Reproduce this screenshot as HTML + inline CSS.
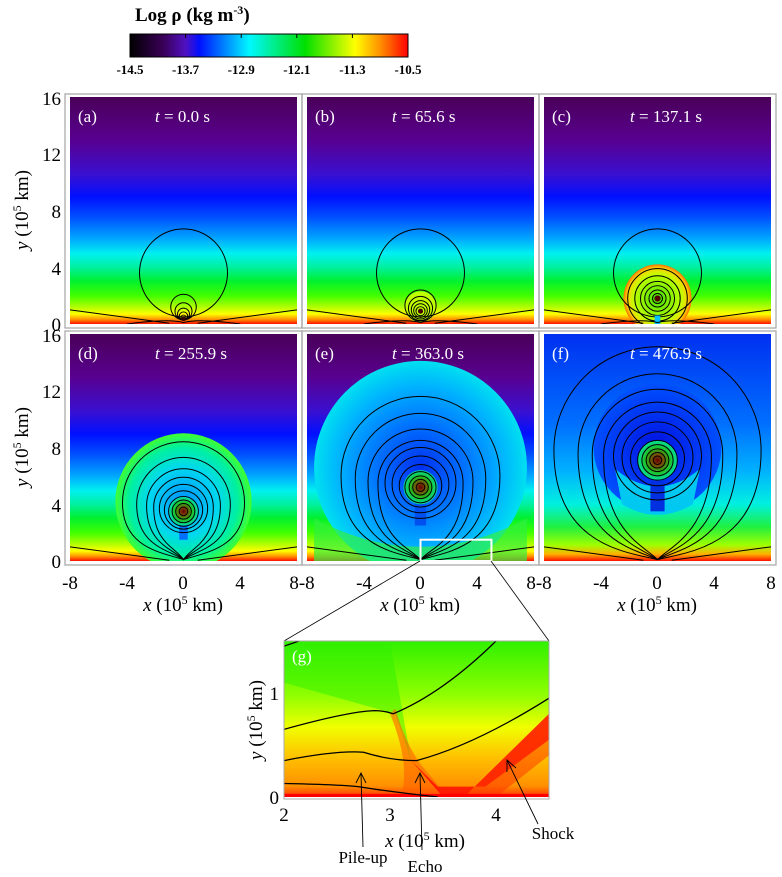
<!DOCTYPE html>
<html><head><meta charset="utf-8"><style>
html,body{margin:0;padding:0;background:#fff}
svg{display:block}
text{font-family:"Liberation Serif",serif}
</style></head><body>
<svg width="782" height="877" viewBox="0 0 782 877" xmlns="http://www.w3.org/2000/svg">
<defs>
<linearGradient id="cb" x1="0" x2="1" y1="0" y2="0">
<stop offset="0" stop-color="#000"/><stop offset="0.12" stop-color="#3a0058"/><stop offset="0.2" stop-color="#5010c0"/><stop offset="0.25" stop-color="#0010ff"/><stop offset="0.43" stop-color="#00f8ff"/><stop offset="0.63" stop-color="#00e000"/><stop offset="0.81" stop-color="#ffff00"/><stop offset="0.9" stop-color="#ff9000"/><stop offset="1" stop-color="#ff0000"/>
</linearGradient>
<linearGradient id="bg" gradientUnits="userSpaceOnUse" x1="0" y1="16" x2="0" y2="0">
<stop offset="0" stop-color="#4a0058"/><stop offset="0.19" stop-color="#580090"/><stop offset="0.34" stop-color="#3a10d0"/><stop offset="0.44" stop-color="#0010ff"/><stop offset="0.53" stop-color="#0050ff"/><stop offset="0.625" stop-color="#00a8ff"/><stop offset="0.69" stop-color="#00f0f0"/><stop offset="0.75" stop-color="#00f0a0"/><stop offset="0.81" stop-color="#00f030"/><stop offset="0.875" stop-color="#40ff00"/><stop offset="0.925" stop-color="#b0ff00"/><stop offset="0.956" stop-color="#ffff00"/><stop offset="0.98" stop-color="#ff9000"/><stop offset="1" stop-color="#ff1000"/>
</linearGradient>
<linearGradient id="bgf" gradientUnits="userSpaceOnUse" x1="0" y1="16" x2="0" y2="0">
<stop offset="0" stop-color="#0030f0"/><stop offset="0.4" stop-color="#0070ff"/><stop offset="0.6" stop-color="#00b0ff"/><stop offset="0.75" stop-color="#00f0e0"/><stop offset="0.85" stop-color="#20f040"/><stop offset="0.93" stop-color="#a0ff00"/><stop offset="0.97" stop-color="#ffb000"/><stop offset="1" stop-color="#ff1000"/>
</linearGradient>
<radialGradient id="core"><stop offset="0" stop-color="#600000"/><stop offset="0.25" stop-color="#804000"/><stop offset="0.6" stop-color="#20c020"/><stop offset="1" stop-color="#00e0a0"/></radialGradient>
<radialGradient id="bc"><stop offset="0" stop-color="#40e000"/><stop offset="0.7" stop-color="#c0ff00"/><stop offset="0.9" stop-color="#ffd000"/><stop offset="1" stop-color="#ff7000"/></radialGradient>
<radialGradient id="bd"><stop offset="0" stop-color="#0090ff"/><stop offset="0.5" stop-color="#00d8f0"/><stop offset="0.8" stop-color="#00f0a0"/><stop offset="1" stop-color="#40ff30"/></radialGradient>
<radialGradient id="be"><stop offset="0" stop-color="#0030f0"/><stop offset="0.4" stop-color="#0070ff"/><stop offset="0.75" stop-color="#00b0ff"/><stop offset="1" stop-color="#00e0f0"/></radialGradient>
<radialGradient id="bf"><stop offset="0" stop-color="#0010e0"/><stop offset="1" stop-color="#0050ff"/></radialGradient>
<linearGradient id="gg" gradientUnits="userSpaceOnUse" x1="0" y1="1.5" x2="0" y2="0">
<stop offset="0" stop-color="#30f000"/><stop offset="0.35" stop-color="#90ff00"/><stop offset="0.55" stop-color="#f0ff00"/><stop offset="0.75" stop-color="#ffc000"/><stop offset="0.93" stop-color="#ff9000"/><stop offset="1" stop-color="#ff3000"/>
</linearGradient>
<clipPath id="cp"><rect x="-8" y="0" width="16" height="16"/></clipPath>
<clipPath id="cg"><rect x="2" y="0" width="2.5" height="1.5"/></clipPath>
</defs>

<!-- colorbar -->
<text x="135" y="21" font-size="19" font-weight="bold">Log ρ (kg  m<tspan font-size="12" dy="-7">-3</tspan><tspan dy="7">)</tspan></text>
<rect x="130" y="34" width="278" height="23" fill="url(#cb)" stroke="#000" stroke-width="1"/>
<g stroke="#000" stroke-width="1"><line x1="185.6" y1="34" x2="185.6" y2="38"/><line x1="241.2" y1="34" x2="241.2" y2="38"/><line x1="296.8" y1="34" x2="296.8" y2="38"/><line x1="352.4" y1="34" x2="352.4" y2="38"/></g>
<g font-size="13" font-weight="bold" text-anchor="middle">
<text x="130" y="74">-14.5</text><text x="185.6" y="74">-13.7</text><text x="241.2" y="74">-12.9</text><text x="296.8" y="74">-12.1</text><text x="352.4" y="74">-11.3</text><text x="408" y="74">-10.5</text></g>

<!-- frames -->
<g fill="none" stroke="#aaa" stroke-width="1.3">
<rect x="65" y="94" width="237" height="234"/><rect x="302" y="94" width="237" height="234"/><rect x="539" y="94" width="237" height="234"/>
<rect x="65" y="331" width="237" height="234"/><rect x="302" y="331" width="237" height="234"/><rect x="539" y="331" width="237" height="234"/>
</g>

<!-- panel a -->
<g transform="translate(183.5,324) scale(14.19,-14.19)" clip-path="url(#cp)" fill="none" stroke="#000" stroke-width="0.07">
<rect x="-8" y="0" width="16" height="16" fill="url(#bg)" stroke="none"/>
<circle cx="0" cy="3.6" r="3.1"/><circle cx="0" cy="1.2" r="0.9"/><circle cx="0" cy="0.9" r="0.6"/><circle cx="0" cy="0.7" r="0.42"/><circle cx="0" cy="0.55" r="0.3"/><circle cx="0" cy="0.45" r="0.18"/>
<circle cx="0" cy="0.35" r="0.15" fill="#300" stroke="none"/>
<path d="M-8,1 L-1,0.05 M8,1 L1,0.05 M-4,0 Q-1,0.4 0,0.1 Q1,0.4 4,0"/>
</g>
<!-- panel b -->
<g transform="translate(420.5,324) scale(14.19,-14.19)" clip-path="url(#cp)" fill="none" stroke="#000" stroke-width="0.07">
<rect x="-8" y="0" width="16" height="16" fill="url(#bg)" stroke="none"/>
<circle cx="0" cy="1.2" r="1.1" fill="#c0ff00" stroke="none"/>
<circle cx="0" cy="3.6" r="3.1"/><circle cx="0" cy="1.3" r="1.1"/><circle cx="0" cy="1.1" r="0.85"/><circle cx="0" cy="1" r="0.65"/><circle cx="0" cy="0.95" r="0.48"/><circle cx="0" cy="0.9" r="0.32"/>
<circle cx="0" cy="0.9" r="0.18" fill="#400" stroke="none"/>
<path d="M-8,1 L-1,0.05 M8,1 L1,0.05 M-4,0 Q-1,0.4 0,0.1 Q1,0.4 4,0"/>
</g>
<!-- panel c -->
<g transform="translate(657.5,324) scale(14.19,-14.19)" clip-path="url(#cp)" fill="none" stroke="#000" stroke-width="0.07">
<rect x="-8" y="0" width="16" height="16" fill="url(#bg)" stroke="none"/>
<circle cx="0" cy="1.8" r="2.4" fill="url(#bc)" stroke="none"/>
<circle cx="0" cy="3.6" r="3.1"/><circle cx="0" cy="1.8" r="2.1"/><circle cx="0" cy="1.8" r="1.6"/><circle cx="0" cy="1.8" r="1.2"/><circle cx="0" cy="1.8" r="0.9"/><circle cx="0" cy="1.8" r="0.6"/><circle cx="0" cy="1.8" r="0.35"/>
<circle cx="0" cy="1.8" r="0.22" fill="#500" stroke="none"/>
<rect x="-0.2" y="0" width="0.4" height="0.6" fill="#00c0ff" stroke="none"/>
<path d="M-8,1 L-1,0.05 M8,1 L1,0.05 M-4,0 Q-1,0.4 0,0.1 Q1,0.4 4,0"/>
</g>
<!-- panel d -->
<g transform="translate(183.5,561) scale(14.19,-14.19)" clip-path="url(#cp)" fill="none" stroke="#000" stroke-width="0.07">
<rect x="-8" y="0" width="16" height="16" fill="url(#bg)" stroke="none"/>
<circle cx="0" cy="4.2" r="4.8" fill="url(#bd)" stroke="none"/>
<rect x="-0.3" y="1.5" width="0.6" height="1.5" fill="#0070ff" stroke="none"/>
<circle cx="0" cy="3.5" r="1" fill="url(#core)" stroke="none"/>
<circle cx="0" cy="3.5" r="0.3"/><circle cx="0" cy="3.5" r="0.55"/><circle cx="0" cy="3.5" r="0.8"/><circle cx="0" cy="3.5" r="1.05"/><circle cx="0" cy="3.6" r="1.35"/><circle cx="0" cy="3.7" r="1.7"/>
<path d="M0,0.1 C0.6,1 2.1,1.3 2.1,3.8 A2.1,2.1 0 0 1 -2.1,3.8 C-2.1,1.3 -0.6,1 0,0.1Z"/>
<path d="M0,0.1 C0.8,0.9 2.6,1.2 2.6,3.9 A2.6,2.6 0 0 1 -2.6,3.9 C-2.6,1.2 -0.8,0.9 0,0.1Z"/>
<path d="M0,0.1 C1,0.8 3.3,1 3.3,4 A3.3,3.3 0 0 1 -3.3,4 C-3.3,1 -1,0.8 0,0.1Z"/>
<path d="M0,0.1 C1.5,0.6 4.3,0.9 4.3,4.1 A4.3,4.3 0 0 1 -4.3,4.1 C-4.3,0.9 -1.5,0.6 0,0.1Z"/>
<path d="M-8,1 L-1,0.05 M8,1 L1,0.05"/>
</g>
<!-- panel e -->
<g transform="translate(420.5,561) scale(14.19,-14.19)" clip-path="url(#cp)" fill="none" stroke="#000" stroke-width="0.07">
<rect x="-8" y="0" width="16" height="16" fill="url(#bg)" stroke="none"/>
<circle cx="0" cy="6.6" r="7.5" fill="url(#be)" stroke="none"/>
<path d="M-7.5,3 Q0,-1 7.5,3 L7.5,0 L-7.5,0Z" fill="#30f040" stroke="none" opacity="0.7"/>
<rect x="-0.4" y="2.5" width="0.8" height="2" fill="#0050f0" stroke="none"/>
<circle cx="0" cy="5.2" r="1.2" fill="url(#core)" stroke="none"/>
<circle cx="0" cy="5.2" r="0.3"/><circle cx="0" cy="5.2" r="0.55"/><circle cx="0" cy="5.2" r="0.8"/><circle cx="0" cy="5.2" r="1.1"/><circle cx="0" cy="5.3" r="1.5"/><circle cx="0" cy="5.4" r="2"/><circle cx="0" cy="5.5" r="2.5"/>
<path d="M0,0.1 C0.8,1 3,1.5 3,5.5 A3,3 0 0 1 -3,5.5 C-3,1.5 -0.8,1 0,0.1Z"/>
<path d="M0,0.1 C1,0.9 3.7,1.3 3.7,5.6 A3.7,3.7 0 0 1 -3.7,5.6 C-3.7,1.3 -1,0.9 0,0.1Z"/>
<path d="M0,0.1 C1.3,0.8 4.6,1.1 4.6,5.8 A4.6,4.6 0 0 1 -4.6,5.8 C-4.6,1.1 -1.3,0.8 0,0.1Z"/>
<path d="M0,0.1 C1.8,0.6 5.6,1 5.6,6 A5.6,5.6 0 0 1 -5.6,6 C-5.6,1 -1.8,0.6 0,0.1Z"/>
<path d="M-8,1 L-1,0.05 M8,1 L1,0.05"/>
<rect x="0" y="0" width="5" height="1.5" stroke="#fff" stroke-width="0.14"/>
</g>
<!-- panel f -->
<g transform="translate(657.5,561) scale(14.19,-14.19)" clip-path="url(#cp)" fill="none" stroke="#000" stroke-width="0.07">
<rect x="-8" y="0" width="16" height="16" fill="url(#bgf)" stroke="none"/>
<circle cx="0" cy="8" r="4.5" fill="url(#bf)" stroke="none"/>
<path d="M-3,6.5 Q0,4 3,6.5 L2.5,4 Q0,2.5 -2.5,4Z" fill="#00c8f0" stroke="none"/>
<rect x="-0.5" y="3.5" width="1" height="2.5" fill="#0030e0" stroke="none"/>
<circle cx="0" cy="7.1" r="1.4" fill="url(#core)" stroke="none"/>
<circle cx="0" cy="7.1" r="0.3"/><circle cx="0" cy="7.1" r="0.55"/><circle cx="0" cy="7.1" r="0.8"/><circle cx="0" cy="7.1" r="1.1"/><circle cx="0" cy="7.1" r="1.4"/><circle cx="0" cy="7.2" r="1.9"/><circle cx="0" cy="7.3" r="2.5"/><circle cx="0" cy="7.4" r="3.1"/>
<path d="M0,0.1 C0.8,1 3.8,2 3.8,7.4 A3.8,3.8 0 0 1 -3.8,7.4 C-3.8,2 -0.8,1 0,0.1Z"/>
<path d="M0,0.1 C1,0.9 4.6,1.6 4.6,7.5 A4.6,4.6 0 0 1 -4.6,7.5 C-4.6,1.6 -1,0.9 0,0.1Z"/>
<path d="M0,0.1 C1.4,0.8 5.6,1.3 5.6,7.6 A5.6,5.6 0 0 1 -5.6,7.6 C-5.6,1.3 -1.4,0.8 0,0.1Z"/>
<path d="M0,0.1 C2,0.6 7.3,1 7.3,7.8 A7.3,7.3 0 0 1 -7.3,7.8 C-7.3,1 -2,0.6 0,0.1Z"/>
<path d="M-8,1 L-1,0.05 M8,1 L1,0.05"/>
</g>

<!-- panel labels -->
<g fill="#fff" font-size="17">
<text x="78" y="122">(a)</text><text x="315" y="122">(b)</text><text x="552" y="122">(c)</text>
<text x="78" y="359">(d)</text><text x="315" y="359">(e)</text><text x="552" y="359">(f)</text>
<text x="155" y="122"><tspan font-style="italic">t</tspan>  = 0.0 s</text>
<text x="392" y="122"><tspan font-style="italic">t</tspan>  = 65.6 s</text>
<text x="630" y="122"><tspan font-style="italic">t</tspan>  = 137.1 s</text>
<text x="155" y="359"><tspan font-style="italic">t</tspan>  = 255.9 s</text>
<text x="392" y="359"><tspan font-style="italic">t</tspan>  = 363.0 s</text>
<text x="630" y="359"><tspan font-style="italic">t</tspan>  = 476.9 s</text>
</g>

<!-- y ticks -->
<g font-size="19" text-anchor="end">
<text x="61" y="105">16</text><text x="61" y="161">12</text><text x="61" y="218">8</text><text x="61" y="275">4</text><text x="61" y="331">0</text>
<text x="61" y="342">16</text><text x="61" y="398">12</text><text x="61" y="455">8</text><text x="61" y="512">4</text><text x="61" y="568">0</text>
</g>
<g font-size="19" text-anchor="middle">
<text transform="translate(28,210) rotate(-90)"><tspan font-style="italic">y</tspan> (10<tspan font-size="12" dy="-7">5</tspan><tspan dy="7"> km)</tspan></text>
<text transform="translate(28,447) rotate(-90)"><tspan font-style="italic">y</tspan> (10<tspan font-size="12" dy="-7">5</tspan><tspan dy="7"> km)</tspan></text>
</g>
<!-- x ticks -->
<g font-size="19" text-anchor="middle">
<text x="70" y="589">-8</text><text x="127" y="589">-4</text><text x="183" y="589">0</text><text x="240" y="589">4</text><text x="302" y="589">8-8</text>
<text x="364" y="589">-4</text><text x="420" y="589">0</text><text x="477" y="589">4</text><text x="539" y="589">8-8</text>
<text x="601" y="589">-4</text><text x="657" y="589">0</text><text x="714" y="589">4</text><text x="771" y="589">8</text>
<text x="183" y="611"><tspan font-style="italic">x</tspan> (10<tspan font-size="12" dy="-7">5</tspan><tspan dy="7"> km)</tspan></text>
<text x="420" y="611"><tspan font-style="italic">x</tspan> (10<tspan font-size="12" dy="-7">5</tspan><tspan dy="7"> km)</tspan></text>
<text x="657" y="611"><tspan font-style="italic">x</tspan> (10<tspan font-size="12" dy="-7">5</tspan><tspan dy="7"> km)</tspan></text>
</g>

<!-- zoom lines -->
<g stroke="#000" stroke-width="0.8"><line x1="420" y1="561" x2="284" y2="641"/><line x1="491" y1="561" x2="549" y2="641"/></g>

<!-- panel g -->
<g transform="translate(72,797) scale(106,-104)" clip-path="url(#cg)" fill="none" stroke="#000" stroke-width="0.012">
<rect x="2" y="0" width="2.5" height="1.5" fill="url(#gg)" stroke="none"/>
<path d="M3.05,0.8 L3.2,0.35 L3.0,1.5 L2,1.5 L2,1.1Z" fill="#30f000" stroke="none" opacity="0.5"/>
<path d="M3.05,0.85 Q3.15,0.5 3.3,0.3 L3.55,0 L3.1,0 Q3.2,0.3 3.0,0.8Z" fill="#ff6000" stroke="none" opacity="0.6"/>
<path d="M3.2,0.35 L3.5,0 L3.7,0 L4.5,0.8 L4.5,0.55 L3.9,0.1 L3.45,0.1 Z" fill="#ff1000" stroke="none" opacity="0.85"/>
<path d="M3.7,0 L4.5,0.78 L4.5,0.4 L4.0,0 Z" fill="#ff3000" stroke="none" opacity="0.5"/>
<rect x="2" y="0" width="2.5" height="0.03" fill="#ff0000" stroke="none"/>
<path d="M2,1.45 L2.2,1.52"/>
<path d="M2,0.65 Q2.6,0.82 2.85,0.83 Q2.95,0.83 3.03,0.8 Q3.5,1.0 4.0,1.5"/>
<path d="M2,0.35 Q2.5,0.45 2.75,0.43 Q3.0,0.35 3.25,0.35 Q3.8,0.5 4.5,0.95"/>
<path d="M2,0.13 Q2.5,0.12 2.7,0.1 Q3.0,0.05 3.45,0"/>
</g>
<rect x="284" y="641" width="265" height="158" fill="none" stroke="#aaa" stroke-width="1"/>
<text x="292" y="662" fill="#fff" font-size="17">(g)</text>
<g font-size="19" text-anchor="middle">
<text x="284" y="821">2</text><text x="390" y="821">3</text><text x="496" y="821">4</text>
<text x="425" y="847"><tspan font-style="italic">x</tspan> (10<tspan font-size="12" dy="-7">5</tspan><tspan dy="7"> km)</tspan></text>
<text transform="translate(262,720) rotate(-90)"><tspan font-style="italic">y</tspan> (10<tspan font-size="12" dy="-7">5</tspan><tspan dy="7"> km)</tspan></text>
</g>
<g font-size="19" text-anchor="end"><text x="279" y="700">1</text><text x="279" y="804">0</text></g>
<g font-size="17" text-anchor="middle">
<text x="363" y="863">Pile-up</text><text x="425" y="872">Echo</text><text x="553" y="839">Shock</text>
</g>
<g stroke="#000" stroke-width="0.9" fill="none">
<path d="M363,847 L361,773 M356,783 L361,773 L366,783"/>
<path d="M422,850 L420,773 M415,783 L420,773 L425,783"/>
<path d="M538,824 L507,760 M507,772 L507,760 L516,768"/>
</g>
</svg>
</body></html>
